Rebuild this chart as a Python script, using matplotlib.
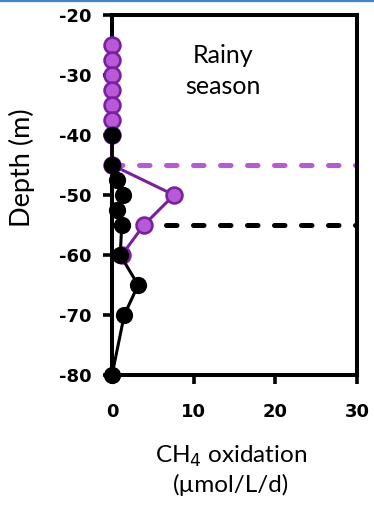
import matplotlib
matplotlib.use("Agg")
import matplotlib.pyplot as plt
from matplotlib.lines import Line2D

# Rainy-season CH4 oxidation profiles
purple_depth = [-25, -27.5, -30, -32.5, -35, -37.5, -40, -45, -50, -55, -60]
purple_rate = [0, 0, 0, 0, 0, 0, 0, 0, 7.6, 3.9, 1.2]

black_depth = [-40, -45, -47.5, -50, -52.5, -55, -60, -65, -70, -80]
black_rate = [0, 0, 0.55, 1.4, 0.55, 1.2, 1.0, 3.2, 1.5, 0]

# Reference depths marked by dashed lines
purple_ref_depth = -45
black_ref_depth = -55

x_ticks = [0, 10, 20, 30]
x_ticklabels = ["0", "10", "20", "30"]
y_ticks = [-20, -30, -40, -50, -60, -70, -80]
y_ticklabels = ["-20", "-30", "-40", "-50", "-60", "-70", "-80"]

PURPLE_LINE = "#7a1fa2"
PURPLE_FILL = "#b65ad8"
PURPLE_DASH = "#b65ad8"

fig = plt.figure(figsize=(3.74, 5.05), dpi=100)
ax = fig.add_axes([0.2995, 0.2574, 0.6551, 0.7129])

dash_kw = dict(lw=3.6, dash_capstyle="round", zorder=1)
ax.plot([0, 30], [purple_ref_depth] * 2, color=PURPLE_DASH,
        dashes=(2.1, 3.3), **dash_kw)
ax.plot([0, 30], [black_ref_depth] * 2, color="black",
        dashes=(2.1, 3.3), **dash_kw)

ax.plot(purple_rate, purple_depth, color=PURPLE_LINE, lw=2.2,
        marker="o", ms=11.4, mfc=PURPLE_FILL, mec=PURPLE_LINE, mew=1.9,
        zorder=3, clip_on=False)
ax.plot(black_rate, black_depth, color="black", lw=2.2,
        marker="o", ms=11.4, mfc="black", mec="black",
        zorder=4, clip_on=False)

ax.set_xlim(0, 30)
ax.set_ylim(-80, -20)

for side in ["left", "right", "top", "bottom"]:
    ax.spines[side].set_linewidth(2.9)
    ax.spines[side].set_zorder(2)

tick_font = dict(family="DejaVu Sans", weight="bold", size=13)
ax.set_xticks(x_ticks)
ax.set_xticklabels(x_ticklabels, fontdict=tick_font)
ax.set_yticks(y_ticks)
ax.set_yticklabels(y_ticklabels, fontdict=tick_font)
ax.tick_params(axis="both", direction="out", length=6.5, width=2.6)
ax.tick_params(axis="x", pad=14)
ax.tick_params(axis="y", pad=8)

ax.set_xlabel("CH$_4$ oxidation\n(µmol/L/d)", family="Lato", size=17.5,
              linespacing=1.32)
ax.xaxis.set_label_coords(0.486, -0.19)
ax.set_ylabel("Depth (m)", family="Lato", size=19.5, va="center")
ax.yaxis.set_label_coords(-0.367, 0.575)

ax.text(0.453, 0.845, "Rainy\nseason", transform=ax.transAxes,
        ha="center", va="center", family="Lato", size=18, linespacing=1.42)

# thin accent rule along the top edge of the figure
fig.add_artist(Line2D([0, 1], [0.998, 0.998], transform=fig.transFigure,
                      color="#3d85c6", lw=1.6))

fig.savefig("out.png", dpi=100)
